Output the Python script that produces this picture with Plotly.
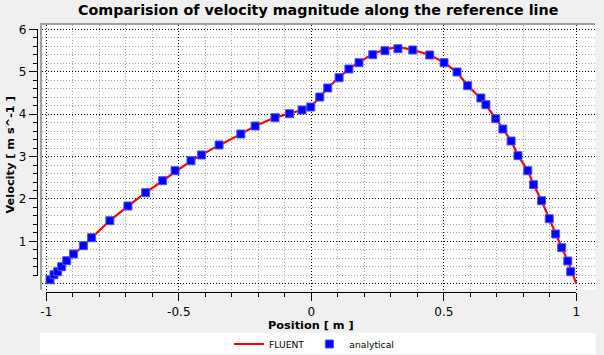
import plotly.graph_objects as go

# ---------------- data ----------------
fluent_x = [-1.0, -0.986, -0.957, -0.923, -0.860, -0.760, -0.692, -0.625, -0.561, -0.454,
            -0.414, -0.348, -0.266, -0.212, -0.137, -0.082, -0.035, 0.0, 0.032, 0.062,
            0.105, 0.142, 0.180, 0.232, 0.278, 0.315, 0.350, 0.383, 0.447, 0.501,
            0.550, 0.590, 0.640, 0.696, 0.754, 0.780, 0.817, 0.839, 0.869, 0.898,
            0.922, 0.945, 0.968, 0.985, 1.0]
fluent_y = [0.0, 0.10, 0.28, 0.54, 0.90, 1.49, 1.83, 2.15, 2.43, 2.90,
            3.04, 3.27, 3.53, 3.72, 3.92, 4.01, 4.10, 4.18, 4.40, 4.62,
            4.87, 5.07, 5.23, 5.42, 5.53, 5.57, 5.56, 5.52, 5.40, 5.22,
            4.99, 4.68, 4.37, 3.90, 3.37, 3.03, 2.67, 2.34, 1.96, 1.53,
            1.17, 0.85, 0.54, 0.25, 0.0]

analytical_x = [-0.986, -0.971, -0.957, -0.942, -0.923, -0.897, -0.860, -0.829, -0.760, -0.692,
                -0.625, -0.561, -0.514, -0.454, -0.414, -0.348, -0.266, -0.212, -0.137, -0.082,
                -0.035, -0.002, 0.032, 0.062, 0.105, 0.142, 0.180, 0.232, 0.278, 0.327,
                0.383, 0.447, 0.501, 0.550, 0.590, 0.640, 0.659, 0.696, 0.723, 0.754,
                0.780, 0.817, 0.839, 0.869, 0.898, 0.922, 0.945, 0.968, 0.979]
analytical_y = [0.094, 0.212, 0.283, 0.401, 0.543, 0.701, 0.897, 1.086, 1.487, 1.834,
                2.148, 2.431, 2.667, 2.903, 3.037, 3.274, 3.533, 3.722, 3.918, 4.012,
                4.100, 4.170, 4.406, 4.619, 4.862, 5.067, 5.216, 5.405, 5.499, 5.546,
                5.516, 5.398, 5.216, 4.997, 4.673, 4.383, 4.225, 3.894, 3.651, 3.368,
                3.021, 2.667, 2.337, 1.959, 1.534, 1.173, 0.850, 0.536, 0.283]

x_tick_vals = [-1, -0.5, 0, 0.5, 1]
x_tick_text = ["-1", "-0.5", "0", "0.5", "1"]
y_tick_vals = [1, 2, 3, 4, 5, 6]
y_tick_text = ["1", "2", "3", "4", "5", "6"]

title_text = "Comparision of velocity magnitude along the reference line"
x_title = "Position [ m ]"
y_title = "Velocity [ m s^-1 ]"

# ---------------- layout helpers (pixel -> paper) ----------------
W, H = 604, 355
def fx(x):
    return x / W
def fy(y):
    return (H - y) / H

FONT = "DejaVu Sans"

fig = go.Figure()

fig.add_trace(go.Scatter(
    x=fluent_x, y=fluent_y, mode="lines", name="FLUENT",
    line=dict(color="#ff0000", width=2.2),
    xaxis="x", yaxis="y",
))
fig.add_trace(go.Scatter(
    x=analytical_x, y=analytical_y, mode="markers", name="analytical",
    marker=dict(symbol="square", size=8, color="#0000ff",
                line=dict(color="#5050ff", width=1)),
    xaxis="x", yaxis="y",
))
# invisible traces carrying the detached scale axes
fig.add_trace(go.Scatter(x=[0], y=[1], xaxis="x2", yaxis="y2", mode="markers",
                         marker=dict(opacity=0), showlegend=False, hoverinfo="skip"))
fig.add_trace(go.Scatter(x=[0], y=[1], xaxis="x3", yaxis="y3", mode="markers",
                         marker=dict(opacity=0), showlegend=False, hoverinfo="skip"))

grid_major = "#000000"
grid_minor = "#a8a8a8"
DOTS = "1px,2px"

X2_DOM = [fx(46.3), fx(576.3)]
Y2_DOM = [fy(276.07), fy(29.48)]
X2_POS = fy(292.3)
Y2_POS = fx(36.7)

fig.update_layout(
    width=W, height=H, autosize=False,
    margin=dict(l=0, r=0, t=0, b=0, pad=0, autoexpand=False),
    paper_bgcolor="#f0f0f0",
    plot_bgcolor="rgba(0,0,0,0)",
    font=dict(family=FONT, size=12, color="#000000"),
    showlegend=True,
    legend=dict(
        orientation="h", x=fx(229), xanchor="left", y=fy(344), yanchor="middle",
        bgcolor="rgba(0,0,0,0)", font=dict(family=FONT, size=9.2, color="#000000"),
    ),
    xaxis=dict(
        domain=[fx(42), fx(595.5)], range=[-1.0162, 1.0725], autorange=False,
        showticklabels=False, ticks="", zeroline=False, showline=False,
        tickmode="linear", tick0=0, dtick=0.5,
        showgrid=True, gridcolor=grid_major, griddash=DOTS, gridwidth=1,
        minor=dict(dtick=0.1, tick0=0, showgrid=True, gridcolor=grid_minor,
                   griddash=DOTS, gridwidth=1),
        anchor="y", fixedrange=True,
    ),
    yaxis=dict(
        domain=[fy(289.5), fy(25)], range=[-0.1369, 6.1057], autorange=False,
        showticklabels=False, ticks="", zeroline=False, showline=False,
        tickmode="linear", tick0=0, dtick=1,
        showgrid=True, gridcolor=grid_major, griddash=DOTS, gridwidth=1,
        minor=dict(dtick=0.2, tick0=0, showgrid=True, gridcolor=grid_minor,
                   griddash=DOTS, gridwidth=1),
        anchor="x", fixedrange=True,
    ),
    # labelled scale axes (major ticks)
    xaxis2=dict(
        domain=X2_DOM, range=[-1, 1], autorange=False,
        anchor="free", position=X2_POS,
        showline=True, linecolor="#000000", linewidth=1,
        showgrid=False, zeroline=False,
        tickmode="array", tickvals=x_tick_vals, ticktext=x_tick_text,
        ticks="outside", ticklen=8, tickwidth=1, tickcolor="#000000",
        tickfont=dict(family=FONT, size=12, color="#000000"),
        fixedrange=True,
    ),
    yaxis2=dict(
        domain=Y2_DOM, range=[0.18, 6], autorange=False,
        anchor="free", position=Y2_POS, side="left",
        showline=True, linecolor="#000000", linewidth=1,
        showgrid=False, zeroline=False,
        tickmode="array", tickvals=y_tick_vals, ticktext=y_tick_text,
        ticks="outside", ticklen=8, tickwidth=1, tickcolor="#000000",
        tickfont=dict(family=FONT, size=12, color="#000000"),
        fixedrange=True,
    ),
    # minor tick scales
    xaxis3=dict(
        domain=X2_DOM, range=[-1, 1], autorange=False,
        anchor="free", position=X2_POS,
        showline=False, showgrid=False, zeroline=False, showticklabels=False,
        tickmode="linear", tick0=0, dtick=0.1,
        ticks="outside", ticklen=4, tickwidth=1, tickcolor="#000000",
        fixedrange=True,
    ),
    yaxis3=dict(
        domain=Y2_DOM, range=[0.18, 6], autorange=False,
        anchor="free", position=Y2_POS, side="left",
        showline=False, showgrid=False, zeroline=False, showticklabels=False,
        tickmode="linear", tick0=0, dtick=0.2,
        ticks="outside", ticklen=4, tickwidth=1, tickcolor="#000000",
        fixedrange=True,
    ),
    shapes=[
        # white canvas of the plot
        dict(type="rect", xref="paper", yref="paper",
             x0=fx(42), x1=fx(595.5), y0=fy(289.5), y1=fy(25),
             fillcolor="#ffffff", line=dict(width=0), layer="below"),
        # legend box
        dict(type="rect", xref="paper", yref="paper",
             x0=fx(40), x1=fx(595.7), y0=fy(354), y1=fy(332.7),
             fillcolor="#ffffff", line=dict(width=0), layer="below"),
        # sunken frame
        dict(type="line", xref="paper", yref="paper",
             x0=fx(40), x1=fx(595), y0=fy(24), y1=fy(24),
             line=dict(color="#a0a0a0", width=2), layer="above"),
        dict(type="line", xref="paper", yref="paper",
             x0=fx(41), x1=fx(41), y0=fy(23), y1=fy(289.5),
             line=dict(color="#a0a0a0", width=2), layer="above"),
    ],
    annotations=[
        dict(text="<b>" + title_text + "</b>", xref="paper", yref="paper",
             x=fx(317.5), y=fy(10.5), xanchor="center", yanchor="middle",
             showarrow=False,
             font=dict(family=FONT, size=14.3, color="#000000")),
        dict(text="<b>" + x_title + "</b>", xref="paper", yref="paper",
             x=fx(310.5), y=fy(325.5), xanchor="center", yanchor="middle",
             showarrow=False,
             font=dict(family=FONT, size=11.3, color="#000000")),
        dict(text="<b>" + y_title + "</b>", xref="paper", yref="paper",
             x=fx(9.5), y=fy(155), xanchor="center", yanchor="middle",
             textangle=-90, showarrow=False,
             font=dict(family=FONT, size=11.3, color="#000000")),
    ],
)

fig.write_html("out.html", config={"displayModeBar": False},
               post_script="document.body.style.margin='0';document.body.style.padding='0';")
